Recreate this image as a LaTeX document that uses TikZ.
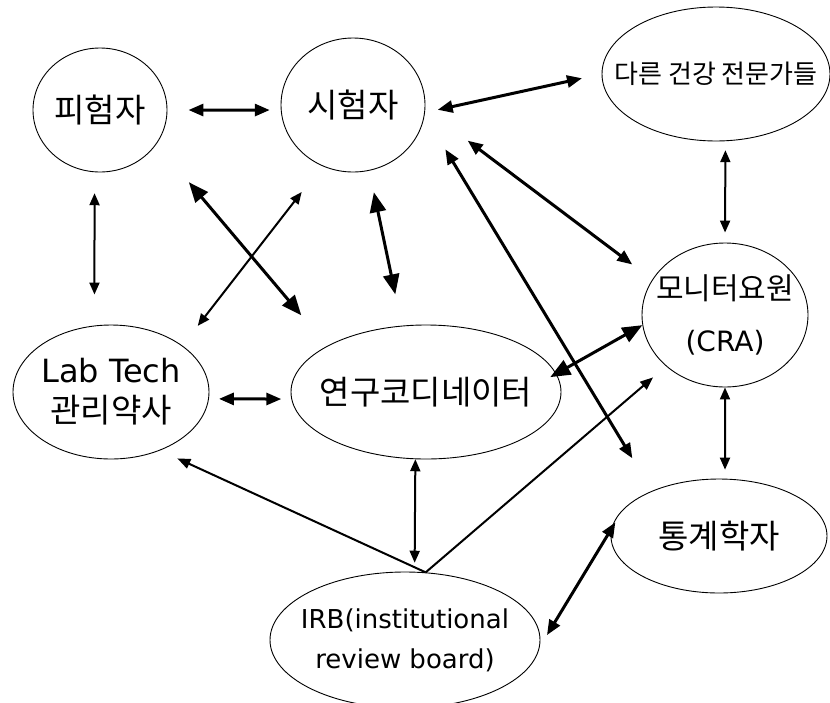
\documentclass[tikz,border=0pt]{standalone}
\usepackage{fontspec}
\setmainfont{Noto Sans CJK KR}
\newfontfamily\latinfont{DejaVu Sans}
\usetikzlibrary{shapes.geometric,arrows.meta}

\begin{document}
\begin{tikzpicture}[x=1pt,y=-1pt,
    role/.style={ellipse,draw,line width=0.9pt,inner xsep=-50pt,inner ysep=0pt,align=center,
      font=\fontsize{33}{40}\selectfont},
    thin link/.style={<->,>={Triangle[length=12pt,width=10pt]},line width=2pt},
    thick link/.style={<->,>={Triangle[length=15pt,width=12pt]},line width=3pt},
    heavy link/.style={<->,>={Triangle[length=20pt,width=16pt]},line width=3pt},
    one way/.style={->,>={Triangle[length=13pt,width=10pt]},line width=2pt}]
  \useasboundingbox (0,0) rectangle (830,702);

  \node[role,minimum width=134,minimum height=124] (pih) at (100,110) {피험자};
  \node[role,minimum width=144,minimum height=134] (sih) at (353,105) {시험자};
  \node[role,minimum width=228,minimum height=134,font=\fontsize{26}{30}\selectfont] (oth) at (716,74) {다른 건강 전문가들};
  \node[role,minimum width=166,minimum height=144,font=\fontsize{30}{52}\selectfont] (mon) at (725,315) {모니터요원\\{\fontsize{28}{52}\selectfont\latinfont(CRA)}};
  \node[role,minimum width=196,minimum height=134] (lab) at (111,392) {{\fontsize{32}{40}\selectfont\latinfont Lab Tech}\\관리약사};
  \node[role,minimum width=270,minimum height=134] (coo) at (426,392) {연구코디네이터};
  \node[role,minimum width=216,minimum height=114] (sta) at (719,536) {통계학자};
  \node[role,minimum width=270,minimum height=136,font=\fontsize{26}{40}\selectfont\latinfont] (irb) at (405,640) {IRB(institutional\\review board)};

  \draw[thick link,shorten <=21pt,shorten >=11pt] (pih.0) -- (sih.184);
  \draw[thin link,shorten <=21pt,shorten >=31pt] (pih.265) -- (lab.104);
  \draw[heavy link,shorten <=50pt,shorten >=40pt] (pih.329) -- (coo.155);
  \draw[thin link,shorten <=33pt,shorten >=25pt] (sih.243) -- (lab.33);
  \draw[heavy link,shorten <=22pt,shorten >=32pt] (sih.284) -- (coo.110);
  \draw[thick link,shorten <=13pt,shorten >=20pt] (sih.354) -- (oth.180);
  \draw[thick link,shorten <=53pt,shorten >=25pt] (sih.357) -- (mon.154);
  \draw[thick link,shorten <=40pt,shorten >=38pt] (sih.352) -- (sta.146);
  \draw[thin link,shorten <=9pt,shorten >=10pt] (oth.278) -- (mon.90);
  \draw[heavy link,shorten >=-7pt] (mon.187) -- (coo.8);
  \draw[thick link,shorten <=10pt,shorten >=10pt] (lab.356) -- (coo.183);
  \draw[one way,shorten >=19pt] (irb.73) -- (lab.310);
  \draw[one way,shorten >=17pt] (irb.73) -- (mon.221);
  \draw[thin link,shorten >=9pt] (coo.261) -- (irb.82);
  \draw[thin link,shorten >=9pt] (mon.270) -- (sta.84);
  \draw[thick link,shorten <=14pt,shorten >=16pt] (irb.357) -- (sta.164);
\end{tikzpicture}
\end{document}
